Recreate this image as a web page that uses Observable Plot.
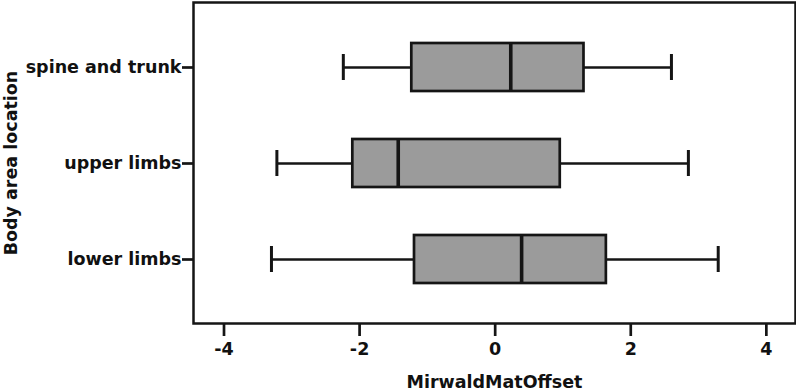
<!DOCTYPE html>
<html>
<head>
<meta charset="utf-8">
<script src="https://cdn.jsdelivr.net/npm/d3@7"></script>
<script src="https://cdn.jsdelivr.net/npm/@observablehq/plot@0.6"></script>
<style>
  html, body { margin: 0; padding: 0; background: #fff; }
  #chart { width: 796px; height: 392px; }
</style>
</head>
<body>
<div id="chart"></div>
<script>
const categories = ["spine and trunk", "upper limbs", "lower limbs"];
const whiskerLow  = [-2.24, -3.22, -3.30];
const q1          = [-1.23, -2.10, -1.19];
const median      = [ 0.23, -1.43,  0.39];
const q3          = [ 1.31,  0.96,  1.64];
const whiskerHigh = [ 2.60,  2.85,  3.29];
const xTicks = [-4, -2, 0, 2, 4];
const xLabel = "MirwaldMatOffset";
const yLabel = "Body area location";

const rows = categories.map((c, i) => ({
  cat: c, lo: whiskerLow[i], q1: q1[i], med: median[i], q3: q3[i], hi: whiskerHigh[i]
}));

const ink = "#151515";
const fs = 17.5;

const chart = Plot.plot({
  width: 796,
  height: 392,
  marginLeft: 193,
  marginRight: 1,
  marginTop: 2,
  marginBottom: 69,
  style: { fontFamily: "'DejaVu Sans', sans-serif", fontSize: fs + "px", fontWeight: 700, color: "#111", background: "#fff" },
  x: { domain: [-4.45, 4.43] },
  y: { domain: categories, paddingInner: 0.5, paddingOuter: 0.41 },
  marks: [
    Plot.ruleY(rows, { y: "cat", x1: "lo", x2: "hi", stroke: ink, strokeWidth: 2.7 }),
    Plot.barX(rows, { y: "cat", x1: "q1", x2: "q3", fill: "#9b9b9b", stroke: ink, strokeWidth: 2.7 }),
    Plot.tickX(rows, { y: "cat", x: "med", stroke: ink, strokeWidth: 3.6 }),
    Plot.tickX(rows, { y: "cat", x: "lo", stroke: ink, strokeWidth: 3, insetTop: 11, insetBottom: 11 }),
    Plot.tickX(rows, { y: "cat", x: "hi", stroke: ink, strokeWidth: 3, insetTop: 11, insetBottom: 11 }),
    Plot.frame({ stroke: ink, strokeWidth: 2.5 }),
    Plot.axisX({ ticks: xTicks, tickSize: 13, tickPadding: 6, tickFormat: d => String(d),
      fontSize: fs, fontWeight: 700,
      strokeWidth: 2.7, stroke: ink, fill: "#111",
      label: xLabel, labelAnchor: "center", labelArrow: "none", labelOffset: 64 }),
    Plot.axisY({ tickSize: 11, tickPadding: 1, strokeWidth: 2.7, stroke: ink, fill: "#111",
      fontSize: fs, fontWeight: 700,
      label: yLabel, labelAnchor: "center", labelArrow: "none", labelOffset: 189 })
  ]
});
document.getElementById("chart").appendChild(chart);
</script>
</body>
</html>
